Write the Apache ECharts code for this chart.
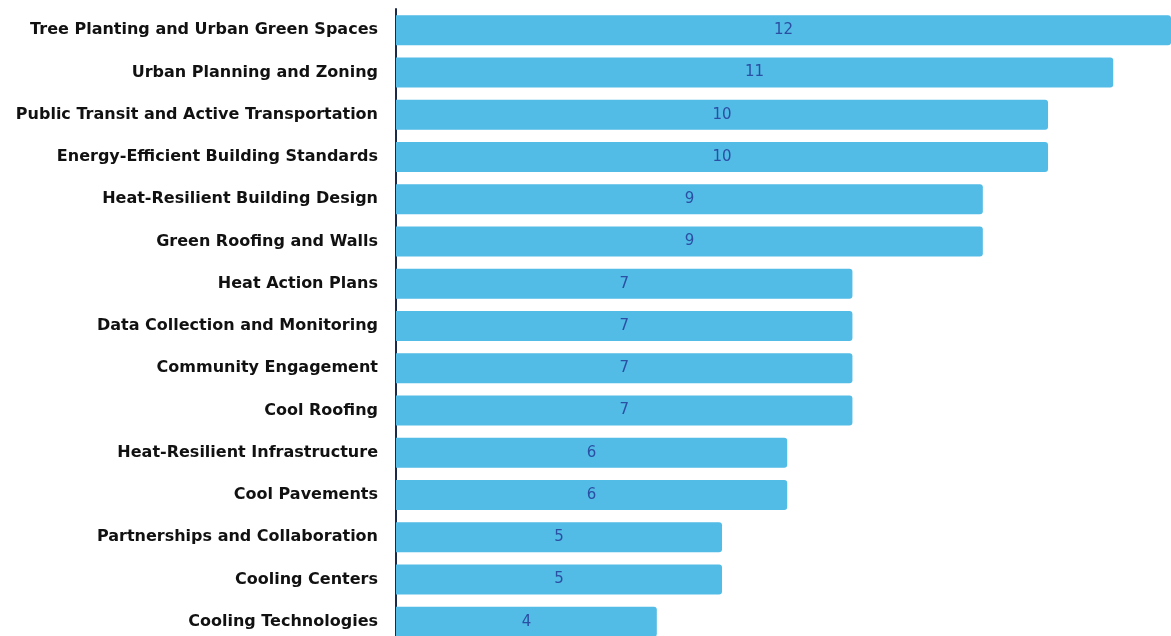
<!DOCTYPE html>
<html><head><meta charset="utf-8">
<script src="https://cdn.jsdelivr.net/npm/echarts@6/dist/echarts.min.js"></script>
<style>html,body{margin:0;padding:0;background:#fff}#c{width:1171px;height:636px}</style>
</head><body><div id="c"></div>
<script>
const categories = [
  "Tree Planting and Urban Green Spaces",
  "Urban Planning and Zoning",
  "Public Transit and Active Transportation",
  "Energy-Efficient Building Standards",
  "Heat-Resilient Building Design",
  "Green Roofing and Walls",
  "Heat Action Plans",
  "Data Collection and Monitoring",
  "Community Engagement",
  "Cool Roofing",
  "Heat-Resilient Infrastructure",
  "Cool Pavements",
  "Partnerships and Collaboration",
  "Cooling Centers",
  "Cooling Technologies"
];
const values = [12, 11, 10, 10, 9, 9, 7, 7, 7, 7, 6, 6, 5, 5, 4];
const axisMax = 11.886; // right edge of the visible plot (chart is cropped at the right)

const chart = echarts.init(document.getElementById('c'));
chart.setOption({
  animation: false,
  grid: { left: 396, right: 0, top: 9, bottom: -7, containLabel: false, outerBoundsMode: 'none' },
  xAxis: { type: 'value', min: 0, max: axisMax, show: false },
  yAxis: {
    type: 'category', data: categories, inverse: true,
    axisLine: { show: true, lineStyle: { color: '#1c2a4a', width: 2 } },
    axisTick: { show: false },
    axisLabel: { color: '#111', fontFamily: 'DejaVu Sans', fontWeight: 'bold', fontSize: 16, margin: 18 }
  },
  series: [{
    type: 'bar', data: values, barWidth: 30, clip: true,
    itemStyle: { color: '#52bbe6', borderRadius: [0, 3, 3, 0] },
    label: { show: true, position: 'inside', color: '#2b4fa3', fontFamily: 'DejaVu Sans', fontSize: 15 }
  }]
});
</script></body></html>
